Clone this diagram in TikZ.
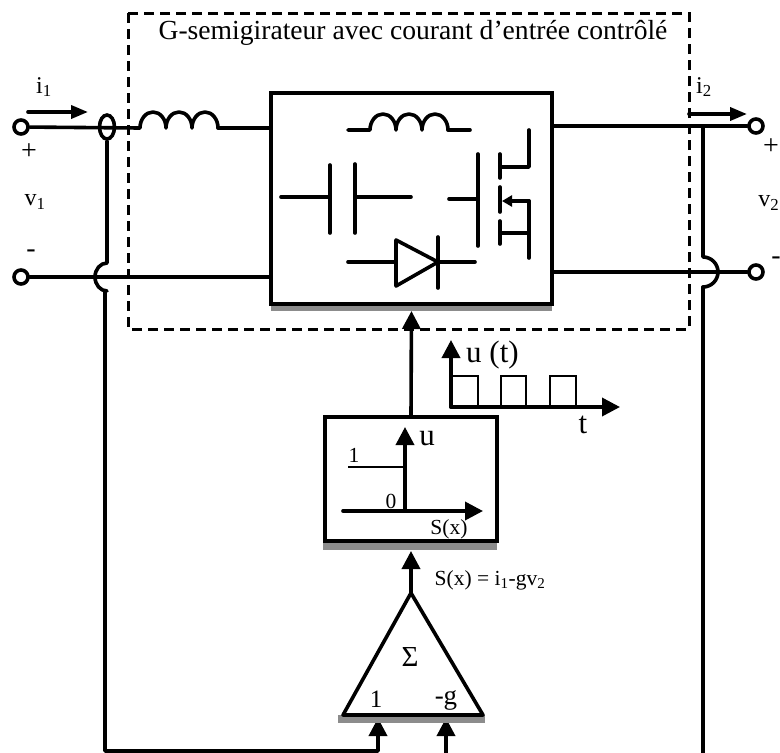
\documentclass[tikz,border=0pt]{standalone}
\usepackage{fontspec}
\setmainfont{Liberation Serif}
\usetikzlibrary{shapes.geometric, arrows.meta, positioning}
\definecolor{shadowcolor}{RGB}{140,140,140}
\newcommand{\coilarcs}{arc[start angle=180, end angle=0, x radius=13pt, y radius=16pt]
    arc[start angle=180, end angle=0, x radius=13pt, y radius=16pt]
    arc[start angle=180, end angle=0, x radius=13pt, y radius=16pt]}

\begin{document}
\begin{tikzpicture}[
    x=1pt, y=-1pt,
    wire/.style={line width=3.6pt, line cap=round, line join=round},
    thinwire/.style={line width=2pt},
    flow/.style={wire, -{Triangle[length=18pt, width=18pt]}},
    smallflow/.style={wire, -{Triangle[length=17pt, width=13pt]}},
    block/.style={rectangle, draw, line width=4pt, minimum width=0pt, inner sep=0pt, outer sep=0pt},
    terminal/.style={circle, draw, fill=white, line width=3.6pt, minimum size=14pt, inner sep=0pt},
    frame/.style={line width=3pt, dash pattern=on 10pt off 6pt},
    shadowbar/.style={fill=shadowcolor},
    label/.style={inner sep=0pt, font=\fontsize{21.5}{25}\selectfont},
    sidelabel/.style={inner sep=0pt, font=\fontsize{24}{28}\selectfont},
    signlabel/.style={inner sep=0pt, font=\fontsize{28}{32}\selectfont},
    biglabel/.style={inner sep=0pt, font=\fontsize{31}{36}\selectfont}
]
    \clip (0,0) rectangle (780,753);

    % Dashed frame
    \draw[frame] (128,13) rectangle (689,329);
    \node[inner sep=0pt, font=\fontsize{27.6}{32}\selectfont] (title) at (413,33) {G-semigirateur avec courant d’entrée contrôlé};

    % Converter block
    \fill[shadowbar] (271,304) rectangle (552,311);
    \node[block, minimum width=281pt, minimum height=211pt] (conv) at (411.5,198.5) {};

    % Switching law block
    \fill[shadowbar] (323,541) rectangle (497,550);
    \node[block, minimum width=172pt, minimum height=124pt] (law) at (411,479) {};

    % Terminals
    \node[terminal] (inplus) at (21,127) {};
    \node[terminal] (inminus) at (21,277) {};
    \node[terminal] (outplus) at (756,126) {};
    \node[terminal] (outminus) at (756,272) {};

    % Input side
    \node[ellipse, draw, line width=3.6pt, minimum width=15pt, minimum height=24pt, inner sep=0pt] (sensor) at (107,127) {};
    \coordinate (coilin) at (140,128);
    \coordinate (coilout) at (218,128);
    \coordinate (hopla) at (107,263);
    \coordinate (hoplb) at (105,291);
    \coordinate (feedcorner) at (105,751);
    \coordinate (sumone) at (378,718);
    \draw[wire] (inplus) -- (coilin) \coilarcs;
    \draw[wire] (coilout) -- (conv.west |- coilout);
    \draw[wire] (inminus) -- (conv.west |- inminus);
    \draw[wire] (sensor.south) -- (hopla) arc[start angle=90, end angle=270, x radius=12pt, y radius=14pt];
    \draw[flow] (hoplb) -- (feedcorner) -- (feedcorner -| sumone) -- (sumone);

    % Output side
    \coordinate (hopra) at (703,257);
    \coordinate (hoprb) at (703,287);
    \coordinate (gfeedend) at (703,756);
    \coordinate (sumg) at (446,718);
    \coordinate (gstart) at (446,756);
    \draw[wire] (conv.east |- outplus) -- (outplus);
    \draw[wire] (conv.east |- outminus) -- (outminus);
    \draw[wire] (hopra |- outplus) -- (hopra) arc[start angle=90, end angle=-90, x radius=15pt, y radius=15pt];
    \draw[wire] (hoprb) -- (gfeedend);
    \draw[flow] (gstart) -- (sumg);

    % Current arrows
    \coordinate (ionea) at (28,112);
    \coordinate (ioneb) at (88,112);
    \coordinate (itwoa) at (689,114);
    \coordinate (itwob) at (747,114);
    \draw[smallflow] (ionea) -- (ioneb);
    \draw[smallflow] (itwoa) -- (itwob);

    % Inductor
    \coordinate (lin) at (348,130);
    \coordinate (la) at (370,130);
    \coordinate (lb) at (448,130);
    \coordinate (lout) at (470,130);
    \draw[wire] (lin) -- (la) \coilarcs;
    \draw[wire] (lb) -- (lout);

    % Capacitor
    \coordinate (capl) at (281,197);
    \coordinate (capa) at (330,197);
    \coordinate (capb) at (355,197);
    \coordinate (capr) at (411,197);
    \draw[wire] (capl) -- (capa);
    \draw[wire] (capb) -- (capr);
    \draw[wire] (capa |- 0,165) -- (capa |- 0,233);
    \draw[wire] (capb |- 0,164) -- (capb |- 0,233);

    % MOSFET
    \coordinate (gatein) at (449,199);
    \coordinate (gate) at (478,199);
    \coordinate (drain) at (529,130);
    \coordinate (sourcetop) at (529,201);
    \coordinate (sourcebot) at (529,258);
    \coordinate (channel) at (502,201);
    \draw[wire] (gatein) -- (gate);
    \draw[wire] (gate |- 0,154) -- (gate |- 0,246);
    \draw[wire] (500,154) -- (500,178);
    \draw[wire] (500,187) -- (500,212);
    \draw[wire] (500,221) -- (500,244);
    \draw[wire] (drain) -- (drain |- 0,167) -- (500,167);
    \draw[wire, -{Triangle[length=10pt, width=11pt]}] (sourcetop) -- (channel);
    \draw[wire] (sourcetop) -- (sourcebot);
    \draw[wire] (500,233) -- (529,233);

    % Diode
    \coordinate (dioin) at (348,262);
    \coordinate (dioa) at (396,262);
    \coordinate (diok) at (438,262);
    \coordinate (dioout) at (475,262);
    \draw[wire] (dioin) -- (dioa);
    \draw[wire] (396,240) -- (396,286) -- (diok) -- cycle;
    \draw[wire] (diok |- 0,237) -- (diok |- 0,288);
    \draw[wire] (diok) -- (dioout);

    % Control signal
    \draw[flow, shorten >=7pt] (law.north) -- (conv.south);

    % Waveform u(t)
    \coordinate (waveorigin) at (451,407);
    \coordinate (wavetop) at (451,340);
    \coordinate (waveend) at (620,407);
    \draw[flow] (waveorigin) -- (wavetop);
    \draw[flow] (waveorigin) -- (waveend);
    \draw[thinwire] (451,376) -- (478,376) -- (478,407);
    \draw[thinwire] (501,407) -- (501,376) -- (526,376) -- (526,407);
    \draw[thinwire] (550,407) -- (550,376) -- (576,376) -- (576,407);

    % Relay characteristic
    \coordinate (lawaxisa) at (343,511);
    \coordinate (lawaxisb) at (483,511);
    \coordinate (lawaxisc) at (405,511);
    \coordinate (lawaxisd) at (405,427);
    \coordinate (lawone) at (348,467);
    \draw[flow] (lawaxisa) -- (lawaxisb);
    \draw[flow] (lawaxisc) -- (lawaxisd);
    \draw[thinwire] (lawone) -- (lawone -| lawaxisc);

    % Summing triangle
    \coordinate (sumtop) at (411,593);
    \coordinate (sumleft) at (343,715);
    \coordinate (sumright) at (483,715);
    \fill[shadowbar] (338,715) rectangle (485,723);
    \draw[wire] (sumtop) -- (sumleft) -- (sumright) -- cycle;
    \draw[flow, shorten >=1pt] (sumtop) -- (law.south |- 0,550);

    % Labels
    \node[sidelabel] (ionelabel) at (44,87) {i\textsubscript{1}};
    \node[sidelabel] (itwolabel) at (704,87) {i\textsubscript{2}};
    \node[signlabel] (plusone) at (29,152) {+};
    \node[signlabel] (minusone) at (31,254) {-};
    \node[sidelabel] (vone) at (35,202) {v\textsubscript{1}};
    \node[signlabel] (plustwo) at (771,147) {+};
    \node[signlabel] (minustwo) at (776,261) {-};
    \node[sidelabel, anchor=east] (vtwo) at (779.5,203) {v\textsubscript{2}};
    \node[biglabel, anchor=base west] (ulabel) at (466,362) {u (t)};
    \node[biglabel] (tlabel) at (583,425) {t};
    \node[biglabel] (lawu) at (427,439) {u};
    \node[label] (lawonelabel) at (354,455) {1};
    \node[label] (lawzero) at (391,501) {0};
    \node[label] (lawsx) at (449,529) {S(x)};
    \node[label] (sxeq) at (490,580) {S(x) = i\textsubscript{1}-gv\textsubscript{2}};
    \node[biglabel, font=\fontsize{29}{34}\selectfont] (sigma) at (410,657) {Σ};
    \node[label, font=\fontsize{25}{30}\selectfont] (sumonelabel) at (376,699) {1};
    \node[label, font=\fontsize{27}{32}\selectfont] (sumglabel) at (446,700) {-g};
\end{tikzpicture}
\end{document}
